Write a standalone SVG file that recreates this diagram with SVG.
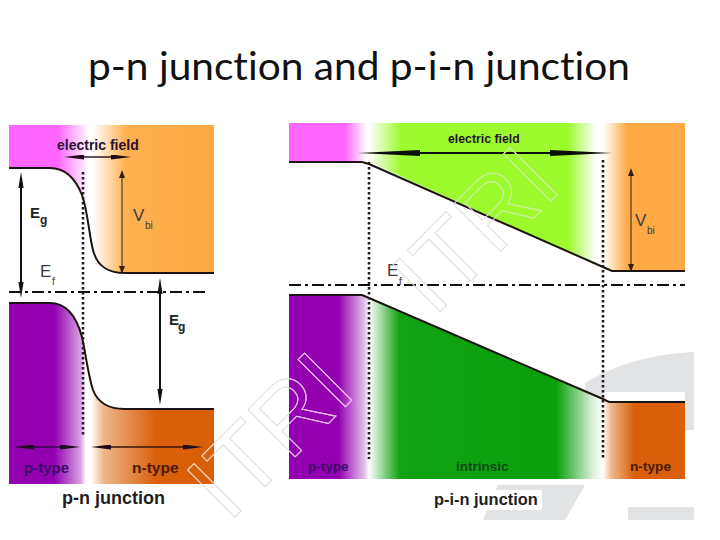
<svg xmlns="http://www.w3.org/2000/svg" width="720" height="540" viewBox="0 0 720 540">
<style>
text{font-family:"Liberation Sans",Arial,sans-serif}
.title{font-family:Lato,"Open Sans",sans-serif;font-size:38px;fill:#111;font-variant-ligatures:none}
.lab{font-weight:bold}
.foot{font-weight:bold;fill:#1e1e22}
.field{font-weight:bold;fill:#27142e}
.sym{font-size:17px;fill:#3c3c3c}
.sub{font-size:10px;fill:#3c3c3c}
.eg{font-size:15px;font-weight:bold;fill:#222}
.egs{font-size:12px;font-weight:bold;fill:#222}
.wm{font-size:97px;fill:none;stroke-width:1}
.band{fill:none;stroke:#1c1410;stroke-width:2}
.dot{fill:none;stroke:#1e1e22;stroke-width:2.6;stroke-dasharray:2.6 2.4}
.dd{fill:none;stroke:#111;stroke-width:2;stroke-dasharray:12 4 3 4}
.gray{fill:#e2e3e5}
</style>
<defs>
<linearGradient id="topL" gradientUnits="userSpaceOnUse" x1="9" x2="214" y1="0" y2="0">
<stop offset="0" stop-color="#ff66ff"/><stop offset=".24" stop-color="#ff66ff"/><stop offset=".36" stop-color="#ffe0ff"/><stop offset=".385" stop-color="#fff"/><stop offset=".41" stop-color="#fff"/><stop offset=".57" stop-color="#ffb050"/><stop offset="1" stop-color="#ffaa44"/>
</linearGradient>
<linearGradient id="botL" gradientUnits="userSpaceOnUse" x1="9" x2="214" y1="0" y2="0">
<stop offset="0" stop-color="#9200b0"/><stop offset=".22" stop-color="#9200b0"/><stop offset=".35" stop-color="#d9a0e2"/><stop offset=".375" stop-color="#fff"/><stop offset=".4" stop-color="#fff"/><stop offset=".46" stop-color="#efb78a"/><stop offset=".72" stop-color="#d95f0a"/><stop offset="1" stop-color="#d95f0a"/>
</linearGradient>
<linearGradient id="pinkR" gradientUnits="userSpaceOnUse" x1="289" x2="369" y1="0" y2="0">
<stop offset="0" stop-color="#ff66ff"/><stop offset=".7" stop-color="#ff66ff"/><stop offset=".97" stop-color="#fff"/><stop offset="1" stop-color="#fff"/>
</linearGradient>
<linearGradient id="purpR" gradientUnits="userSpaceOnUse" x1="289" x2="369" y1="0" y2="0">
<stop offset="0" stop-color="#9200b0"/><stop offset=".62" stop-color="#9200b0"/><stop offset=".95" stop-color="#e6c4ec"/><stop offset="1" stop-color="#fff"/>
</linearGradient>
<linearGradient id="greenT" gradientUnits="userSpaceOnUse" x1="369" x2="603" y1="0" y2="0">
<stop offset="0" stop-color="#fff"/><stop offset=".14" stop-color="#9bfb2c"/><stop offset=".85" stop-color="#9bfb2c"/><stop offset=".97" stop-color="#fff"/><stop offset="1" stop-color="#fff"/>
</linearGradient>
<linearGradient id="greenB" gradientUnits="userSpaceOnUse" x1="369" x2="603" y1="0" y2="0">
<stop offset="0" stop-color="#fff"/><stop offset=".13" stop-color="#12a212"/><stop offset=".8" stop-color="#0aa00a"/><stop offset=".96" stop-color="#dff2df"/><stop offset="1" stop-color="#fff"/>
</linearGradient>
<linearGradient id="orT" gradientUnits="userSpaceOnUse" x1="603" x2="685" y1="0" y2="0">
<stop offset="0" stop-color="#fff"/><stop offset=".3" stop-color="#ffaa44"/><stop offset="1" stop-color="#ffaa44"/>
</linearGradient>
<linearGradient id="orB" gradientUnits="userSpaceOnUse" x1="603" x2="685" y1="0" y2="0">
<stop offset="0" stop-color="#fff"/><stop offset=".1" stop-color="#efb78a"/><stop offset=".38" stop-color="#d95f0a"/><stop offset="1" stop-color="#d95f0a"/>
</linearGradient>
<marker id="head" viewBox="0 0 16 6" refX="1" refY="3" markerUnits="userSpaceOnUse" markerWidth="16" markerHeight="6" orient="auto-start-reverse"><path d="M0 0.4 L16 3 L0 5.6Z" fill="#111"/></marker>
<marker id="long" viewBox="0 0 62 6" refX="2" refY="3" markerUnits="userSpaceOnUse" markerWidth="62" markerHeight="6" orient="auto-start-reverse"><path d="M0 0 L62 3 L0 6Z" fill="#0c100a"/></marker>
<marker id="mid" viewBox="0 0 20 5" refX="2" refY="2.5" markerUnits="userSpaceOnUse" markerWidth="20" markerHeight="5" orient="auto-start-reverse"><path d="M0 0 L20 2.5 L0 5Z" fill="#1c0c1c"/></marker>
<marker id="thin" viewBox="0 0 8 6" refX="1" refY="3" markerUnits="userSpaceOnUse" markerWidth="8" markerHeight="6" orient="auto-start-reverse"><path d="M0 0 L8 3 L0 6Z" fill="#33200f"/></marker>
<clipPath id="cOr"><rect x="9" y="409" width="205" height="75"/></clipPath>
<clipPath id="cPu"><rect x="289" y="295" width="80" height="184"/></clipPath>
<clipPath id="cGr"><path d="M369 123H603V267L369 162Z"/></clipPath>
<text id="wmA" class="wm" transform="translate(228.5 523.5) rotate(-45)">ITRI</text>
<text id="wmB" class="wm" transform="translate(434 318) rotate(-45)">ITRI</text>
</defs>
<rect width="720" height="540" fill="#fff"/>
<g id="backdrop">
<path class="gray" d="M585 383C620 362 655 354 694 352V430H585Z"/>
<path class="gray" d="M498 485H585L565 520H483Z"/>
<rect class="gray" x="628" y="507" width="66" height="13"/>
<rect x="604" y="392" width="81" height="9" fill="#fff"/>
<rect x="432" y="490" width="110" height="20" fill="#fff"/>
</g>
<text id="title" class="title" x="88" y="80" textLength="542" lengthAdjust="spacingAndGlyphs">p-n junction and p-i-n junction</text>
<g id="pn-panel">
<path fill="url(#topL)" d="M9 125H214V273H125C107 273 97 266 93 250C89 235 88 212 82 195C76 180 66 168 50 168H9Z"/>
<path fill="url(#botL)" d="M9 303H50C66 303 76 315 82 337C86 355 88 375 93 390C98 403 108 409 125 409H214V484H9Z"/>
</g>
<g id="pin-panel">
<rect x="289" y="123" width="80" height="39" fill="url(#pinkR)"/>
<path d="M369 123H603V267L369 162Z" fill="url(#greenT)"/>
<path d="M603 123H685V271H612L603 267Z" fill="url(#orT)"/>
<rect x="289" y="295" width="80" height="184" fill="url(#purpR)"/>
<path d="M369 299L603 399V479H369Z" fill="url(#greenB)"/>
<path d="M603 399L609 402H685V479H603Z" fill="url(#orB)"/>
</g>
<g id="connectors">
<path class="band" d="M9 168H50C66 168 76 180 82 195C88 212 89 235 93 250C97 266 107 273 125 273H214"/>
<path class="band" d="M9 303H50C66 303 76 315 82 337C86 355 88 375 93 390C98 403 108 409 125 409H214"/>
<path class="band" d="M289 162H362L369 164L603 267L612 271H685"/>
<path class="band" d="M289 295H362L369 298L603 399L609 402H685"/>
<path class="dot" d="M83 172V437"/>
<path class="dot" d="M369 162V459"/>
<path class="dot" d="M603 160V459"/>
<path class="dd" d="M9 292H208"/>
<path class="dd" d="M289 285H685"/>
<path d="M21 187V283" stroke="#111" stroke-width="2" marker-start="url(#head)" marker-end="url(#head)" fill="none"/>
<path d="M160 293V390" stroke="#111" stroke-width="2" marker-start="url(#head)" marker-end="url(#head)" fill="none"/>
<path d="M122 177V267" stroke="#33200f" stroke-width="1" marker-start="url(#thin)" marker-end="url(#thin)" fill="none"/>
<path d="M631 175V265" stroke="#33200f" stroke-width="1" marker-start="url(#thin)" marker-end="url(#thin)" fill="none"/>
<path d="M82 157H113" stroke="#1c0c1c" stroke-width="1.4" marker-start="url(#mid)" marker-end="url(#mid)" fill="none"/>
<path d="M418 153H552" stroke="#0c100a" stroke-width="2" marker-start="url(#long)" marker-end="url(#long)" fill="none"/>
<path d="M32 447H62" stroke="#2a0a40" stroke-width="1.4" marker-start="url(#mid)" marker-end="url(#mid)" fill="none"/>
<path d="M109 447H185" stroke="#3a1500" stroke-width="1.4" marker-start="url(#mid)" marker-end="url(#mid)" fill="none"/>
</g>
<g id="labels">
<text class="field" x="57" y="150" font-size="14">electric field</text>
<text class="field" x="448" y="143" font-size="12.3">electric field</text>
<text class="eg" x="30" y="218">E</text><text class="egs" x="40" y="224">g</text>
<text class="eg" x="169" y="325">E</text><text class="egs" x="178" y="331">g</text>
<text class="sym" x="133" y="221">V</text><text class="sub" x="145" y="229">bi</text>
<text class="sym" x="635" y="226">V</text><text class="sub" x="647" y="234">bi</text>
<text class="sym" x="40" y="277">E</text><text class="sub" x="52" y="285">f</text>
<text class="sym" x="387" y="276">E</text><text class="sub" x="399" y="285">f</text>
<text class="lab" x="24" y="473" font-size="15" fill="#3e0a6a">p-type</text>
<text class="lab" x="132" y="473" font-size="15.5" fill="#4a1c04">n-type</text>
<text class="lab" x="308" y="471" font-size="13.5" fill="#3e0a6a">p-type</text>
<text class="lab" x="456" y="471" font-size="13.5" fill="#0b4a14">intrinsic</text>
<text class="lab" x="630" y="471" font-size="13.7" fill="#4a1c04">n-type</text>
<text class="foot" x="62" y="504" font-size="18">p-n junction</text>
<text class="foot" x="434" y="505" font-size="16.4">p-i-n junction</text>
</g>
<g id="watermark">
<use href="#wmA" stroke="#dedede"/>
<use href="#wmB" stroke="#dedede"/>
<g clip-path="url(#cPu)"><use href="#wmA" stroke="#efb4f0"/></g>
<g clip-path="url(#cOr)"><use href="#wmA" stroke="#f3c8a0"/></g>
<g clip-path="url(#cGr)"><use href="#wmB" stroke="#c4f488"/></g>
</g>
</svg>
